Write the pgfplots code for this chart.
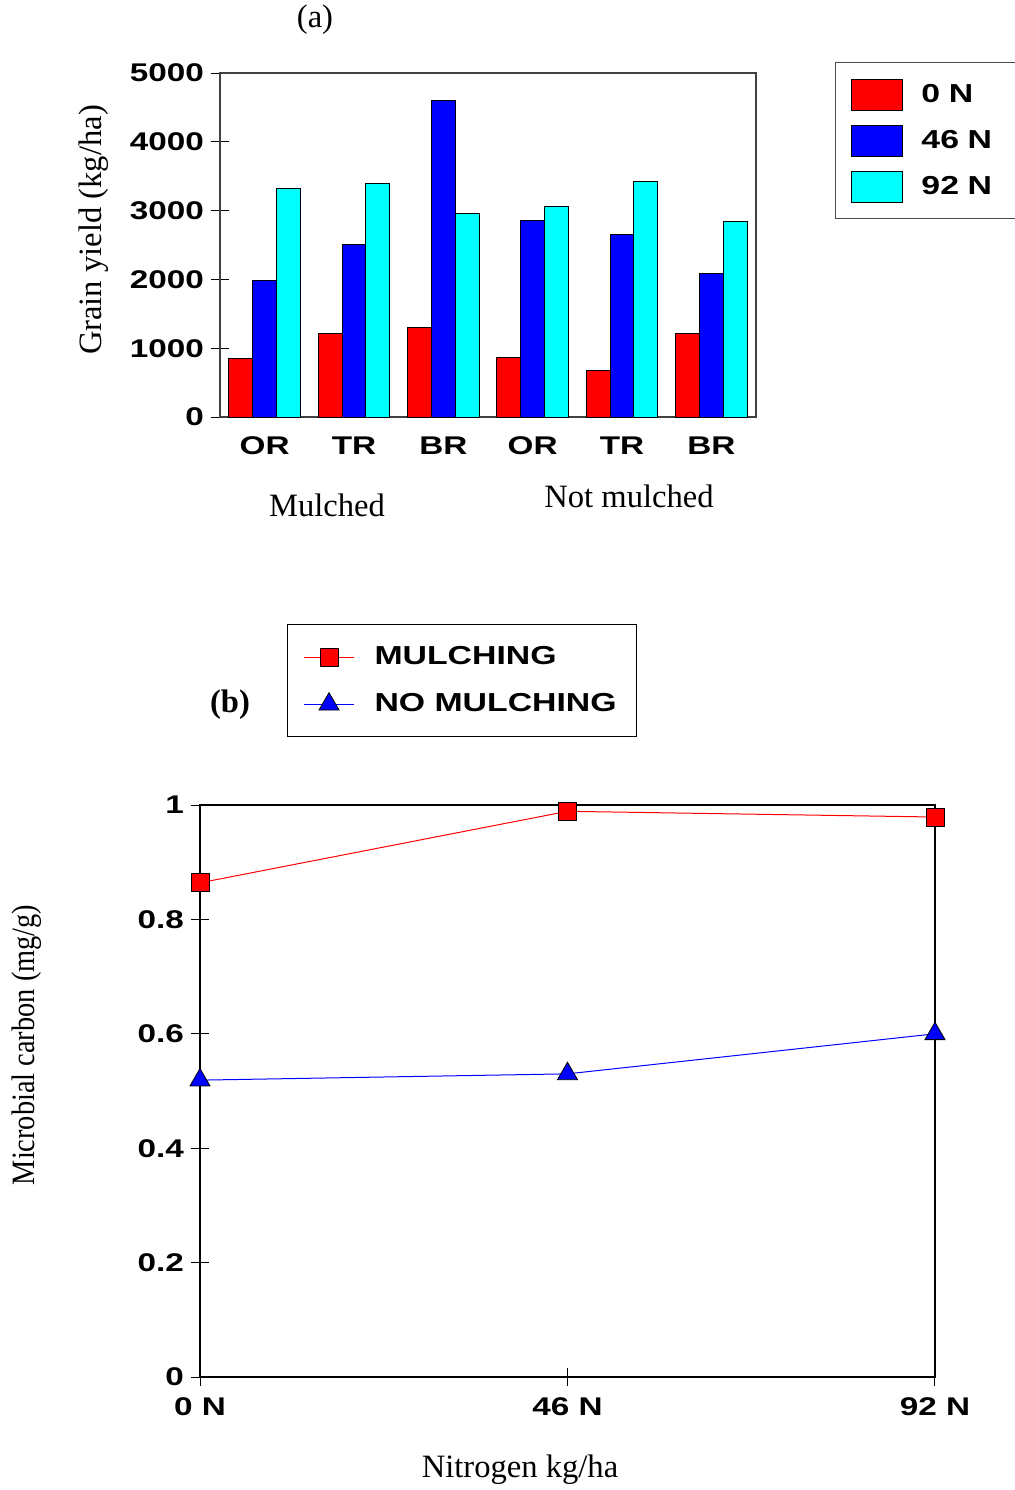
\documentclass[border=0pt]{standalone}
\usepackage{pgfplots}
\pgfplotsset{compat=1.18}
\usepackage{fontspec}
\setmainfont{Liberation Serif}
\newfontfamily\tickfont{Liberation Sans}[UprightFont={* Bold},FakeStretch=1.3]
\newfontfamily\condserif{Liberation Serif}[FakeStretch=0.87]
\definecolor{cred}{RGB}{255,0,0}
\definecolor{cblue}{RGB}{0,0,255}
\definecolor{ccyan}{RGB}{0,255,255}
\newcommand{\tf}{\tickfont\fontsize{12.8}{14}\selectfont}
\newcommand{\lf}{\tickfont\fontsize{13}{15}\selectfont}
\newcommand{\serf}{\fontsize{16.3}{19}\selectfont}
\begin{document}
\begin{tikzpicture}
\path[use as bounding box] (0,0) rectangle (507pt,-745pt);

% ---------------- panel (a)
\begin{axis}[
  at={(110pt,-208.5pt)}, anchor=south west,
  scale only axis, width=268pt, height=172pt,
  xmin=-0.5, xmax=5.5, ymin=0, ymax=5000,
  xtick={0,1,2,3,4,5}, xticklabels={OR,TR,BR,OR,TR,BR},
  ytick={0,1000,2000,3000,4000,5000},
  yticklabels={0,1000,2000,3000,4000,5000},
  ytick pos=left, xtick pos=bottom,
  major x tick style={draw=none},
  tick align=center, major tick length=9pt,
  tick style={black, line width=0.5pt},
  axis line style={black!75, line width=0.7pt},
  ticklabel style={font=\tf},
  xticklabel style={yshift=-2pt},
  clip=false,
  legend cell align=left,
  legend style={at={(1.147,1.032)}, anchor=north west,
    draw=black!70, line width=0.7pt, fill=white,
    inner xsep=8pt, inner ysep=8pt, row sep=7pt,
    font=\lf,
    nodes={inner sep=1pt, text width=50pt},
    /tikz/every odd column/.append style={column sep=8pt}},
  legend image code/.code={\draw[#1,draw=black,line width=0.5pt] (0pt,-7.75pt) rectangle (25.5pt,7.75pt);},
]
\addplot[ybar, bar width=0.2667, bar shift=-0.2667, fill=cred, draw=black, line width=0.5pt]
  coordinates {(0,848) (1,1211) (2,1303) (3,872) (4,683) (5,1211)};
\addlegendentry{0 N}
\addplot[ybar, bar width=0.2667, bar shift=0, fill=cblue, draw=black, line width=0.5pt]
  coordinates {(0,1986) (1,2505) (2,4598) (3,2854) (4,2655) (5,2083)};
\addlegendentry{46 N}
\addplot[ybar, bar width=0.2667, bar shift=0.2667, fill=ccyan, draw=black, line width=0.5pt]
  coordinates {(0,3324) (1,3387) (2,2965) (3,3062) (4,3430) (5,2839)};
\addlegendentry{92 N}
\end{axis}

% ---------------- panel (b)
\begin{axis}[
  at={(100pt,-688.5pt)}, anchor=south west,
  scale only axis, width=367.5pt, height=286pt,
  xmin=0, xmax=92, ymin=0, ymax=1,
  xtick={0,46,92}, xticklabels={0 N,46 N,92 N},
  ytick={0,0.2,0.4,0.6,0.8,1},
  yticklabels={0,0.2,0.4,0.6,0.8,1},
  ytick pos=left, xtick pos=bottom,
  tick align=center, major tick length=9pt,
  tick style={black, line width=0.5pt},
  axis line style={black, line width=0.7pt},
  ticklabel style={font=\tf},
  xticklabel style={yshift=-2.5pt},
  clip=false,
  legend cell align=left,
  legend style={at={(0.1184,1.3164)}, anchor=north west,
    draw=black, line width=0.5pt, fill=white,
    inner xsep=8pt, inner ysep=9pt, row sep=9pt,
    font=\lf,
    /tikz/every odd column/.append style={column sep=8pt}},
  legend image code/.code={\draw[mark repeat=2,mark phase=2,#1] plot coordinates {(0pt,0pt) (12.5pt,0pt) (25pt,0pt)};},
]
\addplot[cred, line width=0.5pt, mark=square*, mark size=4.5pt,
  mark options={fill=cred, draw=black, line width=0.4pt}]
  coordinates {(0,0.864) (46,0.989) (92,0.979)};
\addlegendentry{MULCHING}
\addplot[cblue, line width=0.5pt, mark=triangle*, mark size=5.8pt,
  mark options={fill=cblue, draw=black, line width=0.4pt}]
  coordinates {(0,0.519) (46,0.530) (92,0.600)};
\addlegendentry{NO MULCHING}
\end{axis}

% ---------------- text
\begin{scope}[x=0.5pt,y=-0.5pt]
\node[font=\serf] at (315,20) {(a)};
\node[font=\serf, rotate=90] at (94,230) {Grain yield (kg/ha)};
\node[font=\serf] at (327,505) {Mulched};
\node[font=\serf] at (629,496) {Not mulched};
\node[font=\serf\bfseries] at (230,705) {(b)};
\node[font=\condserif\serf, rotate=90] at (27,1045) {Microbial carbon (mg/g)};
\node[font=\serf] at (520,1470) {Nitrogen kg/ha};
\end{scope}
\end{tikzpicture}
\end{document}
